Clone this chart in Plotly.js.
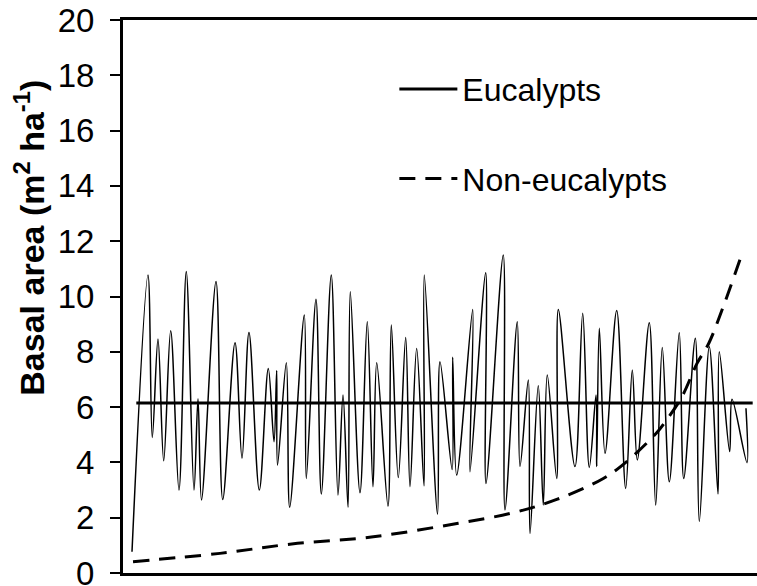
<!DOCTYPE html>
<html>
<head>
<meta charset="utf-8">
<script src="https://cdn.plot.ly/plotly-3.0.1.min.js"></script>
<style>html,body{margin:0;padding:0;background:#fff;}#chart{width:757px;height:586px;}</style>
</head>
<body>
<div id="chart"></div>
<script>
// Eucalypts: annual values (thin oscillating line)
const eucX = [1.42,3.94,4.62,5.52,6.42,7.52,8.83,9.98,11.20,11.83,12.38,14.67,15.73,17.67,18.77,19.87,21.50,22.92,23.82,24.24,24.37,25.76,26.29,28.60,28.91,30.44,31.28,32.85,33.91,34.70,35.49,35.85,37.38,38.53,39.43,40.02,41.80,42.32,43.42,44.59,45.27,46.32,47.48,47.52,49.61,50.00,51.92,52.00,52.63,55.16,54.73,57.21,57.25,59.98,60.25,62.19,62.62,63.93,64.20,65.50,66.29,66.92,68.41,68.66,71.29,72.51,73.55,74.61,74.72,75.13,76.03,77.87,79.29,80.33,81.12,83.01,84.02,85.06,86.17,87.74,88.44,90.27,90.90,92.48,93.85,94.05,95.69,96.06,98.42,98.26];
const eucY = [0.77,10.78,4.9,8.46,4.06,8.76,3.0,10.9,3.0,6.3,2.64,10.54,2.66,8.33,4.15,8.7,3.0,7.4,4.75,7.32,3.9,7.6,2.38,9.33,3.42,9.9,2.86,10.78,2.82,6.44,2.38,10.17,2.9,9.09,3.12,7.6,2.42,8.97,3.45,8.52,3.12,8.12,3.15,10.78,2.13,7.64,3.74,7.8,3.54,9.53,3.66,10.86,3.24,11.5,2.28,9.09,3.85,6.98,1.43,6.77,2.46,7.16,3.42,9.53,3.85,9.39,3.82,6.44,3.85,8.85,4.33,9.49,3.06,7.34,4.09,9.05,2.46,8.16,3.3,8.69,3.42,8.49,1.86,8.18,2.86,8.0,4.39,6.28,3.99,5.96];
// Eucalypts: mean line
const meanX = [2.10, 99.32];
const meanY = [6.15, 6.15];
// Non-eucalypts
const nonX = [1.58,15.30,26.61,39.48,52.89,61.56,68.41,75.76,79.45,84.18,85.54,88.17,90.54,92.38,94.48,97.48];
const nonY = [0.41,0.71,1.05,1.31,1.8,2.18,2.66,3.42,4.03,5.07,5.47,6.38,7.58,8.3,9.51,11.44];
const yTicks = [0,2,4,6,8,10,12,14,16,18,20];

const FONT = 'Liberation Sans, Arial, sans-serif';
const traces = [
  {x: eucX, y: eucY, type: 'scatter', mode: 'lines', line: {color: '#000', width: 1.5, shape: 'spline', smoothing: 1}, showlegend: false, hoverinfo: 'skip'},
  {x: meanX, y: meanY, type: 'scatter', mode: 'lines', name: 'Eucalypts', legendgroup: 'a', line: {color: '#000', width: 3}},
  {x: nonX, y: nonY, type: 'scatter', mode: 'lines', name: 'Non-eucalypts', legendgroup: 'b', line: {color: '#000', width: 3, dash: '16px,10px', shape: 'spline'}}
];
const layout = {
  width: 757, height: 586,
  margin: {l: 123, r: 0, t: 20, b: 13},
  paper_bgcolor: '#fff', plot_bgcolor: '#fff',
  font: {family: FONT, color: '#000', size: 32},
  showlegend: true,
  legend: {x: 0.428, y: 0.9246, xanchor: 'left', yanchor: 'top', bgcolor: 'rgba(0,0,0,0)', font: {size: 32, family: FONT}, tracegroupgap: 45, itemwidth: 58, traceorder: 'grouped'},
  xaxis: {range: [0, 100], showline: true, linecolor: '#000', linewidth: 3, mirror: true, ticks: '', showticklabels: false, showgrid: false, zeroline: false},
  yaxis: {range: [0, 20], tickvals: yTicks, ticktext: yTicks.map(String), showline: true, linecolor: '#000', linewidth: 3, ticks: 'outside', ticklen: 10, tickwidth: 2, tickcolor: '#000', showgrid: false, zeroline: false, tickfont: {size: 33, family: FONT}, ticklabelstandoff: 9, ticklabeloverflow: 'allow', automargin: false},
  annotations: [{text: '<b>Basal area (m<sup>2</sup> ha<sup>-1</sup>)</b>', xref: 'paper', yref: 'paper', x: -0.147, y: 0.606, xanchor: 'center', yanchor: 'middle', textangle: -90, showarrow: false, font: {size: 34, family: FONT, color: '#000'}}]
};
Plotly.newPlot('chart', traces, layout, {staticPlot: true, displayModeBar: false});
</script>
</body>
</html>
